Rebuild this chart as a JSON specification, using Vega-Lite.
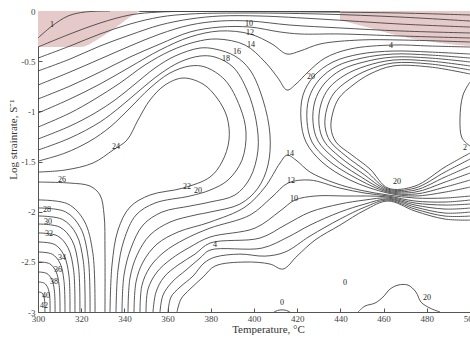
{
"$schema": "https://vega.github.io/schema/vega-lite/v6.json",
"width": 432, "height": 301,
"autosize": {"type": "none"},
"padding": {"left": 38, "top": 11, "right": 0, "bottom": 26},
"background": "white",
"config": {"view": {"stroke": "#555", "strokeWidth": 1},
 "axis": {"labelFont": "Liberation Serif", "titleFont": "Liberation Serif", "labelColor": "#444", "titleColor": "#333", "domainColor": "#555", "tickColor": "#555", "grid": false, "titleFontWeight": "normal"}},
"datasets": {
"pinkL": [{"t":300,"l":-0.36},{"t":319.4,"l":-0.359},{"t":328.7,"l":-0.269},{"t":335.6,"l":-0.169},{"t":342.6,"l":-0.06},{"t":347.2,"l":0}],
"pinkR": [{"t":439.8,"l":-0.09},{"t":453.7,"l":-0.17},{"t":467.6,"l":-0.25},{"t":486.1,"l":-0.32},{"t":500,"l":-0.35}],
"topticks": [{"t":320},{"t":340},{"t":360},{"t":380},{"t":400},{"t":420},{"t":440},{"t":460},{"t":480}],
"lines": [
{"c":"T1","o":0,"t":300,"l":-0.269},{"c":"T1","o":1,"t":306.48,"l":-0.15},{"c":"T1","o":2,"t":313.89,"l":-0.05},{"c":"T1","o":3,"t":321.76,"l":-0.01},{"c":"T1","o":4,"t":333.33,"l":0},
{"c":"T2","o":0,"t":300,"l":-0.359},{"c":"T2","o":1,"t":314.81,"l":-0.229},{"c":"T2","o":2,"t":328.7,"l":-0.12},{"c":"T2","o":3,"t":342.59,"l":-0.04},{"c":"T2","o":4,"t":356.48,"l":-0.01},{"c":"T2","o":5,"t":384.26,"l":-0.005},{"c":"T2","o":6,"t":430.56,"l":-0.01},{"c":"T2","o":7,"t":467.59,"l":-0.02},{"c":"T2","o":8,"t":500,"l":-0.04},
{"c":"T4","o":0,"t":300,"l":-0.469},{"c":"T4","o":1,"t":314.81,"l":-0.349},{"c":"T4","o":2,"t":328.7,"l":-0.229},{"c":"T4","o":3,"t":342.59,"l":-0.13},{"c":"T4","o":4,"t":356.48,"l":-0.06},{"c":"T4","o":5,"t":370.37,"l":-0.03},{"c":"T4","o":6,"t":393.52,"l":-0.02},{"c":"T4","o":7,"t":430.56,"l":-0.03},{"c":"T4","o":8,"t":467.59,"l":-0.06},{"c":"T4","o":9,"t":500,"l":-0.1},
{"c":"T6","o":0,"t":300,"l":-0.598},{"c":"T6","o":1,"t":314.81,"l":-0.479},{"c":"T6","o":2,"t":328.7,"l":-0.349},{"c":"T6","o":3,"t":342.59,"l":-0.239},{"c":"T6","o":4,"t":356.48,"l":-0.14},{"c":"T6","o":5,"t":370.37,"l":-0.08},{"c":"T6","o":6,"t":384.26,"l":-0.05},{"c":"T6","o":7,"t":402.78,"l":-0.05},{"c":"T6","o":8,"t":430.56,"l":-0.08},{"c":"T6","o":9,"t":467.59,"l":-0.13},{"c":"T6","o":10,"t":500,"l":-0.16},
{"c":"T8","o":0,"t":300,"l":-0.738},{"c":"T8","o":1,"t":314.81,"l":-0.608},{"c":"T8","o":2,"t":328.7,"l":-0.479},{"c":"T8","o":3,"t":342.59,"l":-0.349},{"c":"T8","o":4,"t":356.48,"l":-0.229},{"c":"T8","o":5,"t":370.37,"l":-0.14},{"c":"T8","o":6,"t":384.26,"l":-0.1},{"c":"T8","o":7,"t":398.15,"l":-0.1},{"c":"T8","o":8,"t":416.67,"l":-0.14},{"c":"T8","o":9,"t":439.81,"l":-0.169},{"c":"T8","o":10,"t":467.59,"l":-0.199},{"c":"T8","o":11,"t":500,"l":-0.219},
{"c":"T10","o":0,"t":300,"l":-0.877},{"c":"T10","o":1,"t":314.81,"l":-0.748},{"c":"T10","o":2,"t":328.7,"l":-0.608},{"c":"T10","o":3,"t":342.59,"l":-0.459},{"c":"T10","o":4,"t":356.48,"l":-0.329},{"c":"T10","o":5,"t":370.37,"l":-0.209},{"c":"T10","o":6,"t":384.26,"l":-0.16},{"c":"T10","o":7,"t":398.15,"l":-0.16},{"c":"T10","o":8,"t":412.04,"l":-0.209},{"c":"T10","o":9,"t":421.3,"l":-0.229},{"c":"T10","o":10,"t":439.81,"l":-0.229},{"c":"T10","o":11,"t":467.59,"l":-0.249},{"c":"T10","o":12,"t":500,"l":-0.269},
{"c":"T12","o":0,"t":300,"l":-1.017},{"c":"T12","o":1,"t":314.81,"l":-0.877},{"c":"T12","o":2,"t":328.7,"l":-0.728},{"c":"T12","o":3,"t":342.59,"l":-0.558},{"c":"T12","o":4,"t":356.48,"l":-0.389},{"c":"T12","o":5,"t":370.37,"l":-0.259},{"c":"T12","o":6,"t":384.26,"l":-0.199},{"c":"T12","o":7,"t":398.15,"l":-0.229},{"c":"T12","o":8,"t":408.33,"l":-0.329},{"c":"T12","o":9,"t":415.28,"l":-0.429},{"c":"T12","o":10,"t":421.3,"l":-0.399},{"c":"T12","o":11,"t":430.56,"l":-0.329},{"c":"T12","o":12,"t":449.07,"l":-0.289},{"c":"T12","o":13,"t":467.59,"l":-0.289},{"c":"T12","o":14,"t":500,"l":-0.309},
{"c":"T14","o":0,"t":300,"l":-1.157},{"c":"T14","o":1,"t":314.81,"l":-1.017},{"c":"T14","o":2,"t":326.39,"l":-0.877},{"c":"T14","o":3,"t":337.96,"l":-0.718},{"c":"T14","o":4,"t":349.54,"l":-0.538},{"c":"T14","o":5,"t":361.11,"l":-0.399},{"c":"T14","o":6,"t":372.69,"l":-0.309},{"c":"T14","o":7,"t":382.87,"l":-0.279},{"c":"T14","o":8,"t":395.83,"l":-0.339},{"c":"T14","o":9,"t":405.09,"l":-0.508},{"c":"T14","o":10,"t":411.11,"l":-0.668},{"c":"T14","o":11,"t":415.28,"l":-0.788},{"c":"T14","o":12,"t":419.44,"l":-0.728},{"c":"T14","o":13,"t":425.0,"l":-0.608},{"c":"T14","o":14,"t":432.87,"l":-0.469},{"c":"T14","o":15,"t":444.44,"l":-0.379},{"c":"T14","o":16,"t":464.35,"l":-0.339},{"c":"T14","o":17,"t":481.48,"l":-0.349},{"c":"T14","o":18,"t":500,"l":-0.359},
{"c":"H18","o":0,"t":300,"l":-1.276},{"c":"H18","o":1,"t":314.81,"l":-1.147},{"c":"H18","o":2,"t":326.39,"l":-1.017},{"c":"H18","o":3,"t":335.65,"l":-0.887},{"c":"H18","o":4,"t":344.91,"l":-0.728},{"c":"H18","o":5,"t":354.17,"l":-0.568},{"c":"H18","o":6,"t":363.43,"l":-0.449},{"c":"H18","o":7,"t":375,"l":-0.369},{"c":"H18","o":8,"t":381.94,"l":-0.379},{"c":"H18","o":9,"t":391.2,"l":-0.449},{"c":"H18","o":10,"t":398.15,"l":-0.588},{"c":"H18","o":11,"t":404.17,"l":-0.887},{"c":"H18","o":12,"t":407.41,"l":-1.236},{"c":"H18","o":13,"t":406.48,"l":-1.535},{"c":"H18","o":14,"t":401.85,"l":-1.765},{"c":"H18","o":15,"t":393.52,"l":-1.924},{"c":"H18","o":16,"t":379.63,"l":-2.004},{"c":"H18","o":17,"t":372.69,"l":-2.034},{"c":"H18","o":18,"t":361.11,"l":-2.104},{"c":"H18","o":19,"t":351.85,"l":-2.233},{"c":"H18","o":20,"t":345.83,"l":-2.433},{"c":"H18","o":21,"t":342.59,"l":-2.662},{"c":"H18","o":22,"t":341.67,"l":-3},
{"c":"H20","o":0,"t":300,"l":-1.386},{"c":"H20","o":1,"t":314.81,"l":-1.266},{"c":"H20","o":2,"t":328.7,"l":-1.107},{"c":"H20","o":3,"t":337.96,"l":-0.957},{"c":"H20","o":4,"t":347.22,"l":-0.788},{"c":"H20","o":5,"t":356.48,"l":-0.628},{"c":"H20","o":6,"t":365.74,"l":-0.508},{"c":"H20","o":7,"t":375,"l":-0.449},{"c":"H20","o":8,"t":381.94,"l":-0.459},{"c":"H20","o":9,"t":390.28,"l":-0.558},{"c":"H20","o":10,"t":396.76,"l":-0.788},{"c":"H20","o":11,"t":400.93,"l":-1.087},{"c":"H20","o":12,"t":401.85,"l":-1.386},{"c":"H20","o":13,"t":398.15,"l":-1.665},{"c":"H20","o":14,"t":391.2,"l":-1.834},{"c":"H20","o":15,"t":379.63,"l":-1.904},{"c":"H20","o":16,"t":370.37,"l":-1.944},{"c":"H20","o":17,"t":357.41,"l":-2.004},{"c":"H20","o":18,"t":348.61,"l":-2.134},{"c":"H20","o":19,"t":343.06,"l":-2.363},{"c":"H20","o":20,"t":339.81,"l":-2.632},{"c":"H20","o":21,"t":338.89,"l":-3},
{"c":"H22","o":0,"t":300,"l":-1.496},{"c":"H22","o":1,"t":312.5,"l":-1.416},{"c":"H22","o":2,"t":324.07,"l":-1.296},{"c":"H22","o":3,"t":333.33,"l":-1.157},{"c":"H22","o":4,"t":342.59,"l":-0.967},{"c":"H22","o":5,"t":351.85,"l":-0.768},{"c":"H22","o":6,"t":361.11,"l":-0.618},{"c":"H22","o":7,"t":370.37,"l":-0.548},{"c":"H22","o":8,"t":377.31,"l":-0.558},{"c":"H22","o":9,"t":386.57,"l":-0.688},{"c":"H22","o":10,"t":393.52,"l":-0.957},{"c":"H22","o":11,"t":396.3,"l":-1.206},{"c":"H22","o":12,"t":394.44,"l":-1.486},{"c":"H22","o":13,"t":387.96,"l":-1.685},{"c":"H22","o":14,"t":379.63,"l":-1.785},{"c":"H22","o":15,"t":370.37,"l":-1.844},{"c":"H22","o":16,"t":354.17,"l":-1.914},{"c":"H22","o":17,"t":345.37,"l":-2.034},{"c":"H22","o":18,"t":339.81,"l":-2.283},{"c":"H22","o":19,"t":337.04,"l":-2.582},{"c":"H22","o":20,"t":336.11,"l":-3},
{"c":"H24","o":0,"t":300,"l":-1.605},{"c":"H24","o":1,"t":312.5,"l":-1.585},{"c":"H24","o":2,"t":325.46,"l":-1.515},{"c":"H24","o":3,"t":334.72,"l":-1.386},{"c":"H24","o":4,"t":341.2,"l":-1.286},{"c":"H24","o":5,"t":346.3,"l":-1.087},{"c":"H24","o":6,"t":351.85,"l":-0.887},{"c":"H24","o":7,"t":358.8,"l":-0.738},{"c":"H24","o":8,"t":367.13,"l":-0.668},{"c":"H24","o":9,"t":376.39,"l":-0.728},{"c":"H24","o":10,"t":382.87,"l":-0.867},{"c":"H24","o":11,"t":387.5,"l":-1.057},{"c":"H24","o":12,"t":388.43,"l":-1.286},{"c":"H24","o":13,"t":385.19,"l":-1.505},{"c":"H24","o":14,"t":379.63,"l":-1.655},{"c":"H24","o":15,"t":367.13,"l":-1.765},{"c":"H24","o":16,"t":351.85,"l":-1.834},{"c":"H24","o":17,"t":342.59,"l":-1.954},{"c":"H24","o":18,"t":337.04,"l":-2.183},{"c":"H24","o":19,"t":334.26,"l":-2.532},{"c":"H24","o":20,"t":333.33,"l":-3},
{"c":"L26","o":0,"t":300,"l":-1.705},{"c":"L26","o":1,"t":314.8,"l":-1.715},{"c":"L26","o":2,"t":324.1,"l":-1.745},{"c":"L26","o":3,"t":328.7,"l":-1.834},{"c":"L26","o":4,"t":330.6,"l":-2.034},{"c":"L26","o":5,"t":331.0,"l":-2.383},{"c":"L26","o":6,"t":331.0,"l":-3},
{"c":"B14","o":0,"t":344.44,"l":-3},{"c":"B14","o":1,"t":345.37,"l":-2.702},{"c":"B14","o":2,"t":348.61,"l":-2.502},{"c":"B14","o":3,"t":355.09,"l":-2.323},{"c":"B14","o":4,"t":364.81,"l":-2.203},{"c":"B14","o":5,"t":379.63,"l":-2.104},{"c":"B14","o":6,"t":395.83,"l":-1.954},{"c":"B14","o":7,"t":405.09,"l":-1.755},{"c":"B14","o":8,"t":412.04,"l":-1.515},{"c":"B14","o":9,"t":415.28,"l":-1.436},{"c":"B14","o":10,"t":419.44,"l":-1.486},{"c":"B14","o":11,"t":425.93,"l":-1.605},{"c":"B14","o":12,"t":437.5,"l":-1.715},{"c":"B14","o":13,"t":449.07,"l":-1.785},{"c":"B14","o":14,"t":462.04,"l":-1.834},{"c":"B14","o":15,"t":474.54,"l":-1.864},{"c":"B14","o":16,"t":488.43,"l":-1.864},{"c":"B14","o":17,"t":500,"l":-1.844},
{"c":"B12","o":0,"t":347.22,"l":-3},{"c":"B12","o":1,"t":348.15,"l":-2.732},{"c":"B12","o":2,"t":351.85,"l":-2.552},{"c":"B12","o":3,"t":358.33,"l":-2.403},{"c":"B12","o":4,"t":368.06,"l":-2.273},{"c":"B12","o":5,"t":379.63,"l":-2.164},{"c":"B12","o":6,"t":398.15,"l":-2.034},{"c":"B12","o":7,"t":408.33,"l":-1.854},{"c":"B12","o":8,"t":415.74,"l":-1.715},{"c":"B12","o":9,"t":425.93,"l":-1.685},{"c":"B12","o":10,"t":439.81,"l":-1.765},{"c":"B12","o":11,"t":451.39,"l":-1.815},{"c":"B12","o":12,"t":462.04,"l":-1.844},{"c":"B12","o":13,"t":474.54,"l":-1.894},{"c":"B12","o":14,"t":488.43,"l":-1.904},{"c":"B12","o":15,"t":500,"l":-1.884},
{"c":"B10","o":0,"t":350,"l":-3},{"c":"B10","o":1,"t":350.93,"l":-2.772},{"c":"B10","o":2,"t":355.09,"l":-2.602},{"c":"B10","o":3,"t":361.57,"l":-2.473},{"c":"B10","o":4,"t":370.37,"l":-2.353},{"c":"B10","o":5,"t":379.63,"l":-2.253},{"c":"B10","o":6,"t":400.46,"l":-2.164},{"c":"B10","o":7,"t":412.04,"l":-1.994},{"c":"B10","o":8,"t":418.98,"l":-1.884},{"c":"B10","o":9,"t":428.24,"l":-1.844},{"c":"B10","o":10,"t":442.13,"l":-1.844},{"c":"B10","o":11,"t":462.04,"l":-1.854},{"c":"B10","o":12,"t":474.54,"l":-1.914},{"c":"B10","o":13,"t":488.43,"l":-1.934},{"c":"B10","o":14,"t":500,"l":-1.924},
{"c":"B8","o":0,"t":353.24,"l":-3},{"c":"B8","o":1,"t":354.63,"l":-2.802},{"c":"B8","o":2,"t":358.33,"l":-2.652},{"c":"B8","o":3,"t":364.81,"l":-2.532},{"c":"B8","o":4,"t":372.69,"l":-2.423},{"c":"B8","o":5,"t":379.63,"l":-2.313},{"c":"B8","o":6,"t":402.78,"l":-2.263},{"c":"B8","o":7,"t":414.35,"l":-2.134},{"c":"B8","o":8,"t":425.93,"l":-2.004},{"c":"B8","o":9,"t":439.81,"l":-1.924},{"c":"B8","o":10,"t":451.39,"l":-1.884},{"c":"B8","o":11,"t":462.04,"l":-1.864},{"c":"B8","o":12,"t":474.54,"l":-1.934},{"c":"B8","o":13,"t":488.43,"l":-1.974},{"c":"B8","o":14,"t":500,"l":-1.964},
{"c":"B6","o":0,"t":356.48,"l":-3},{"c":"B6","o":1,"t":357.87,"l":-2.832},{"c":"B6","o":2,"t":362.04,"l":-2.702},{"c":"B6","o":3,"t":368.52,"l":-2.582},{"c":"B6","o":4,"t":375,"l":-2.463},{"c":"B6","o":5,"t":379.63,"l":-2.383},{"c":"B6","o":6,"t":403.7,"l":-2.363},{"c":"B6","o":7,"t":415.74,"l":-2.253},{"c":"B6","o":8,"t":425.93,"l":-2.134},{"c":"B6","o":9,"t":439.81,"l":-2.004},{"c":"B6","o":10,"t":451.39,"l":-1.924},{"c":"B6","o":11,"t":462.04,"l":-1.874},{"c":"B6","o":12,"t":474.54,"l":-1.954},{"c":"B6","o":13,"t":488.43,"l":-2.014},{"c":"B6","o":14,"t":500,"l":-2.004},
{"c":"B4","o":0,"t":360.19,"l":-3},{"c":"B4","o":1,"t":361.57,"l":-2.851},{"c":"B4","o":2,"t":365.74,"l":-2.752},{"c":"B4","o":3,"t":371.76,"l":-2.642},{"c":"B4","o":4,"t":376.85,"l":-2.512},{"c":"B4","o":5,"t":381.94,"l":-2.453},{"c":"B4","o":6,"t":393.52,"l":-2.423},{"c":"B4","o":7,"t":405.09,"l":-2.443},{"c":"B4","o":8,"t":414.35,"l":-2.403},{"c":"B4","o":9,"t":425.93,"l":-2.243},{"c":"B4","o":10,"t":439.81,"l":-2.074},{"c":"B4","o":11,"t":451.39,"l":-1.954},{"c":"B4","o":12,"t":462.04,"l":-1.884},{"c":"B4","o":13,"t":474.54,"l":-1.974},{"c":"B4","o":14,"t":488.43,"l":-2.044},{"c":"B4","o":15,"t":500,"l":-2.044},
{"c":"B2","o":0,"t":364.35,"l":-3},{"c":"B2","o":1,"t":366.2,"l":-2.871},{"c":"B2","o":2,"t":370.37,"l":-2.772},{"c":"B2","o":3,"t":376.39,"l":-2.652},{"c":"B2","o":4,"t":381.94,"l":-2.542},{"c":"B2","o":5,"t":395.83,"l":-2.502},{"c":"B2","o":6,"t":407.41,"l":-2.522},{"c":"B2","o":7,"t":413.43,"l":-2.572},{"c":"B2","o":8,"t":419.91,"l":-2.443},{"c":"B2","o":9,"t":428.24,"l":-2.283},{"c":"B2","o":10,"t":439.81,"l":-2.134},{"c":"B2","o":11,"t":451.39,"l":-1.984},{"c":"B2","o":12,"t":462.04,"l":-1.894},{"c":"B2","o":13,"t":474.54,"l":-1.994},{"c":"B2","o":14,"t":488.43,"l":-2.074},{"c":"B2","o":15,"t":500,"l":-2.084},
{"c":"R1","o":0,"t":500,"l":-0.429},{"c":"R1","o":1,"t":481.48,"l":-0.409},{"c":"R1","o":2,"t":464.35,"l":-0.399},{"c":"R1","o":3,"t":449.07,"l":-0.429},{"c":"R1","o":4,"t":436.57,"l":-0.508},{"c":"R1","o":5,"t":427.78,"l":-0.648},{"c":"R1","o":6,"t":422.69,"l":-0.837},{"c":"R1","o":7,"t":421.76,"l":-1.087},{"c":"R1","o":8,"t":424.07,"l":-1.306},{"c":"R1","o":9,"t":431.48,"l":-1.505},{"c":"R1","o":10,"t":444.44,"l":-1.685},{"c":"R1","o":11,"t":462.04,"l":-1.815},{"c":"R1","o":12,"t":474.54,"l":-1.844},{"c":"R1","o":13,"t":488.43,"l":-1.805},{"c":"R1","o":14,"t":500,"l":-1.755},
{"c":"R2","o":0,"t":500,"l":-0.469},{"c":"R2","o":1,"t":481.48,"l":-0.439},{"c":"R2","o":2,"t":464.35,"l":-0.429},{"c":"R2","o":3,"t":450,"l":-0.469},{"c":"R2","o":4,"t":438.43,"l":-0.548},{"c":"R2","o":5,"t":430.09,"l":-0.688},{"c":"R2","o":6,"t":425.46,"l":-0.867},{"c":"R2","o":7,"t":424.54,"l":-1.097},{"c":"R2","o":8,"t":426.85,"l":-1.306},{"c":"R2","o":9,"t":434.26,"l":-1.486},{"c":"R2","o":10,"t":446.3,"l":-1.655},{"c":"R2","o":11,"t":462.04,"l":-1.805},{"c":"R2","o":12,"t":474.54,"l":-1.825},{"c":"R2","o":13,"t":488.43,"l":-1.755},{"c":"R2","o":14,"t":500,"l":-1.685},
{"c":"R3","o":0,"t":500,"l":-0.508},{"c":"R3","o":1,"t":481.48,"l":-0.469},{"c":"R3","o":2,"t":464.35,"l":-0.459},{"c":"R3","o":3,"t":450.93,"l":-0.508},{"c":"R3","o":4,"t":440.28,"l":-0.588},{"c":"R3","o":5,"t":432.41,"l":-0.728},{"c":"R3","o":6,"t":428.24,"l":-0.897},{"c":"R3","o":7,"t":427.31,"l":-1.107},{"c":"R3","o":8,"t":429.63,"l":-1.296},{"c":"R3","o":9,"t":437.04,"l":-1.466},{"c":"R3","o":10,"t":448.15,"l":-1.635},{"c":"R3","o":11,"t":462.04,"l":-1.795},{"c":"R3","o":12,"t":474.54,"l":-1.805},{"c":"R3","o":13,"t":488.43,"l":-1.705},{"c":"R3","o":14,"t":500,"l":-1.615},
{"c":"R4","o":0,"t":500,"l":-0.548},{"c":"R4","o":1,"t":481.48,"l":-0.499},{"c":"R4","o":2,"t":464.35,"l":-0.489},{"c":"R4","o":3,"t":451.85,"l":-0.548},{"c":"R4","o":4,"t":442.13,"l":-0.638},{"c":"R4","o":5,"t":434.72,"l":-0.768},{"c":"R4","o":6,"t":431.02,"l":-0.927},{"c":"R4","o":7,"t":430.09,"l":-1.127},{"c":"R4","o":8,"t":432.41,"l":-1.296},{"c":"R4","o":9,"t":439.81,"l":-1.456},{"c":"R4","o":10,"t":450,"l":-1.615},{"c":"R4","o":11,"t":462.04,"l":-1.785},{"c":"R4","o":12,"t":474.54,"l":-1.785},{"c":"R4","o":13,"t":488.43,"l":-1.655},{"c":"R4","o":14,"t":500,"l":-1.545},
{"c":"R5","o":0,"t":500,"l":-0.588},{"c":"R5","o":1,"t":481.48,"l":-0.528},{"c":"R5","o":2,"t":464.35,"l":-0.518},{"c":"R5","o":3,"t":452.78,"l":-0.588},{"c":"R5","o":4,"t":444.0,"l":-0.688},{"c":"R5","o":5,"t":437.04,"l":-0.818},{"c":"R5","o":6,"t":433.8,"l":-0.967},{"c":"R5","o":7,"t":432.87,"l":-1.147},{"c":"R5","o":8,"t":435.19,"l":-1.296},{"c":"R5","o":9,"t":442.59,"l":-1.446},{"c":"R5","o":10,"t":451.85,"l":-1.595},{"c":"R5","o":11,"t":462.04,"l":-1.775},{"c":"R5","o":12,"t":474.54,"l":-1.765},{"c":"R5","o":13,"t":488.43,"l":-1.605},{"c":"R5","o":14,"t":500,"l":-1.476},
{"c":"R6","o":0,"t":500,"l":-0.628},{"c":"R6","o":1,"t":481.48,"l":-0.558},{"c":"R6","o":2,"t":464.35,"l":-0.548},{"c":"R6","o":3,"t":453.7,"l":-0.628},{"c":"R6","o":4,"t":445.83,"l":-0.738},{"c":"R6","o":5,"t":439.35,"l":-0.867},{"c":"R6","o":6,"t":436.57,"l":-1.007},{"c":"R6","o":7,"t":435.65,"l":-1.167},{"c":"R6","o":8,"t":437.96,"l":-1.306},{"c":"R6","o":9,"t":445.37,"l":-1.436},{"c":"R6","o":10,"t":453.7,"l":-1.575},{"c":"R6","o":11,"t":462.04,"l":-1.765},{"c":"R6","o":12,"t":474.54,"l":-1.745},{"c":"R6","o":13,"t":488.43,"l":-1.555},{"c":"R6","o":14,"t":500,"l":-1.416},
{"c":"R7","o":0,"t":500,"l":-0.708},{"c":"R7","o":1,"t":496.76,"l":-0.837},{"c":"R7","o":2,"t":495.37,"l":-1.067},{"c":"R7","o":3,"t":496.3,"l":-1.266},{"c":"R7","o":4,"t":500,"l":-1.346},
{"c":"A1","o":0,"t":300,"l":-1.883},{"c":"A1","o":1,"t":313.9,"l":-1.924},{"c":"A1","o":2,"t":321.4,"l":-2.093},{"c":"A1","o":3,"t":325.4,"l":-2.414},{"c":"A1","o":4,"t":326.4,"l":-3},
{"c":"A2","o":0,"t":300,"l":-1.963},{"c":"A2","o":1,"t":312.7,"l":-2.001},{"c":"A2","o":2,"t":319.6,"l":-2.158},{"c":"A2","o":3,"t":323.2,"l":-2.456},{"c":"A2","o":4,"t":324.1,"l":-3},
{"c":"A3","o":0,"t":300,"l":-2.043},{"c":"A3","o":1,"t":311.4,"l":-2.078},{"c":"A3","o":2,"t":317.7,"l":-2.223},{"c":"A3","o":3,"t":321.0,"l":-2.498},{"c":"A3","o":4,"t":321.8,"l":-3},
{"c":"A4","o":0,"t":300,"l":-2.123},{"c":"A4","o":1,"t":310.2,"l":-2.155},{"c":"A4","o":2,"t":315.8,"l":-2.288},{"c":"A4","o":3,"t":318.7,"l":-2.54},{"c":"A4","o":4,"t":319.4,"l":-3},
{"c":"A5","o":0,"t":300,"l":-2.212},{"c":"A5","o":1,"t":309.0,"l":-2.241},{"c":"A5","o":2,"t":313.9,"l":-2.36},{"c":"A5","o":3,"t":316.5,"l":-2.586},{"c":"A5","o":4,"t":317.1,"l":-3},
{"c":"A6","o":0,"t":300,"l":-2.302},{"c":"A6","o":1,"t":307.8,"l":-2.328},{"c":"A6","o":2,"t":312.0,"l":-2.433},{"c":"A6","o":3,"t":314.3,"l":-2.634},{"c":"A6","o":4,"t":314.8,"l":-3},
{"c":"A7","o":0,"t":300,"l":-2.402},{"c":"A7","o":1,"t":306.6,"l":-2.424},{"c":"A7","o":2,"t":310.2,"l":-2.514},{"c":"A7","o":3,"t":312.0,"l":-2.686},{"c":"A7","o":4,"t":312.5,"l":-3},
{"c":"A8","o":0,"t":300,"l":-2.501},{"c":"A8","o":1,"t":305.4,"l":-2.519},{"c":"A8","o":2,"t":308.3,"l":-2.595},{"c":"A8","o":3,"t":309.8,"l":-2.738},{"c":"A8","o":4,"t":310.2,"l":-3},
{"c":"A9","o":0,"t":300,"l":-2.601},{"c":"A9","o":1,"t":304.1,"l":-2.616},{"c":"A9","o":2,"t":306.4,"l":-2.676},{"c":"A9","o":3,"t":307.6,"l":-2.791},{"c":"A9","o":4,"t":307.9,"l":-3},
{"c":"A10","o":0,"t":300,"l":-2.701},{"c":"A10","o":1,"t":302.9,"l":-2.712},{"c":"A10","o":2,"t":304.5,"l":-2.757},{"c":"A10","o":3,"t":305.4,"l":-2.843},{"c":"A10","o":4,"t":305.6,"l":-3},
{"c":"A11","o":0,"t":300,"l":-2.801},{"c":"A11","o":1,"t":301.7,"l":-2.808},{"c":"A11","o":2,"t":302.6,"l":-2.838},{"c":"A11","o":3,"t":303.1,"l":-2.896},{"c":"A11","o":4,"t":303.2,"l":-3},
{"c":"BUMP","o":0,"t":448.15,"l":-3},{"c":"BUMP","o":1,"t":451.39,"l":-2.941},{"c":"BUMP","o":2,"t":456.02,"l":-2.911},{"c":"BUMP","o":3,"t":459.72,"l":-2.851},{"c":"BUMP","o":4,"t":462.96,"l":-2.772},{"c":"BUMP","o":5,"t":466.67,"l":-2.732},{"c":"BUMP","o":6,"t":471.3,"l":-2.732},{"c":"BUMP","o":7,"t":475,"l":-2.802},{"c":"BUMP","o":8,"t":477.31,"l":-2.901},{"c":"BUMP","o":9,"t":481.48,"l":-2.961},{"c":"BUMP","o":10,"t":486.11,"l":-3},
{"c":"Z0","o":0,"t":409.26,"l":-3},{"c":"Z0","o":1,"t":411.57,"l":-2.981},{"c":"Z0","o":2,"t":414.35,"l":-2.981},{"c":"Z0","o":3,"t":416.67,"l":-3}
],
"labels": [
{"t":306.5,"l":-0.14,"s":"1"},{"t":397.7,"l":-0.13,"s":"10"},{"t":398.1,"l":-0.22,"s":"12"},{"t":398.6,"l":-0.34,"s":"14"},{"t":392.1,"l":-0.41,"s":"16"},{"t":387.0,"l":-0.48,"s":"18"},
{"t":336.1,"l":-1.356,"s":"24"},{"t":311.1,"l":-1.685,"s":"26"},{"t":369.0,"l":-1.755,"s":"22"},{"t":374.1,"l":-1.795,"s":"20"},
{"t":416.7,"l":-1.426,"s":"14"},{"t":417.1,"l":-1.695,"s":"12"},{"t":418.5,"l":-1.874,"s":"10"},{"t":381.9,"l":-2.333,"s":"4"},
{"t":466.2,"l":-1.705,"s":"20"},{"t":426.4,"l":-0.658,"s":"20"},{"t":463.4,"l":-0.349,"s":"4"},{"t":497.7,"l":-1.366,"s":"2"},
{"t":413.0,"l":-2.911,"s":"0"},{"t":442.1,"l":-2.712,"s":"0"},{"t":480.1,"l":-2.861,"s":"20"},
{"t":304.2,"l":-1.984,"s":"28"},{"t":304.6,"l":-2.104,"s":"30"},{"t":305.1,"l":-2.223,"s":"32"},{"t":311.1,"l":-2.463,"s":"34"},{"t":309.3,"l":-2.582,"s":"36"},{"t":307.4,"l":-2.702,"s":"38"},{"t":303.7,"l":-2.842,"s":"40"},{"t":302.8,"l":-2.941,"s":"42"}
]
},
"encoding": {
 "x": {"field": "t", "type": "quantitative", "scale": {"domain": [300, 500], "nice": false, "zero": false},
  "axis": {"values": [300,320,340,360,380,400,420,440,460,480,500], "tickSize": -4, "labelPadding": 6, "labelFontSize": 9, "labelFlush": false, "title": "Temperature, °C", "titleFontSize": 11, "titleX": 230, "titleY": 20, "titleBaseline": "alphabetic", "titleAnchor": "start", "titleAlign": "center"}},
 "y": {"field": "l", "type": "quantitative", "scale": {"domain": [-3, 0], "nice": false, "zero": false},
  "axis": {"values": [0,-0.5,-1,-1.5,-2,-2.5,-3], "labelExpr": "'' + datum.value", "tickSize": -4, "labelPadding": 7, "labelFontSize": 9, "labelFlush": false, "title": "Log strainrate, S⁻¹", "titleFontSize": 11, "titleX": -22, "titleY": 128, "titleAngle": -90, "titleAlign": "center", "titleBaseline": "alphabetic"}}
},
"layer": [
 {"data": {"name": "pinkL"}, "mark": {"type": "area", "color": "#e6caca", "interpolate": "monotone", "clip": true}, "encoding": {"y2": {"datum": 0}}},
 {"data": {"name": "pinkR"}, "mark": {"type": "area", "color": "#e6caca", "interpolate": "monotone", "clip": true}, "encoding": {"y2": {"datum": 0}}},
 {"data": {"name": "lines"}, "mark": {"type": "line", "stroke": "#444", "strokeWidth": 0.9, "interpolate": "catmull-rom", "clip": true}, "encoding": {"detail": {"field": "c"}, "order": {"field": "o", "type": "quantitative"}}},
 {"data": {"name": "topticks"}, "mark": {"type": "rule", "color": "#555"}, "encoding": {"y": {"datum": 0}, "y2": {"datum": -0.04}}},
 {"data": {"name": "labels"}, "mark": {"type": "text", "font": "Liberation Serif", "fontSize": 8, "fill": "#222", "clip": true}, "encoding": {"text": {"field": "s"}}}
]
}
